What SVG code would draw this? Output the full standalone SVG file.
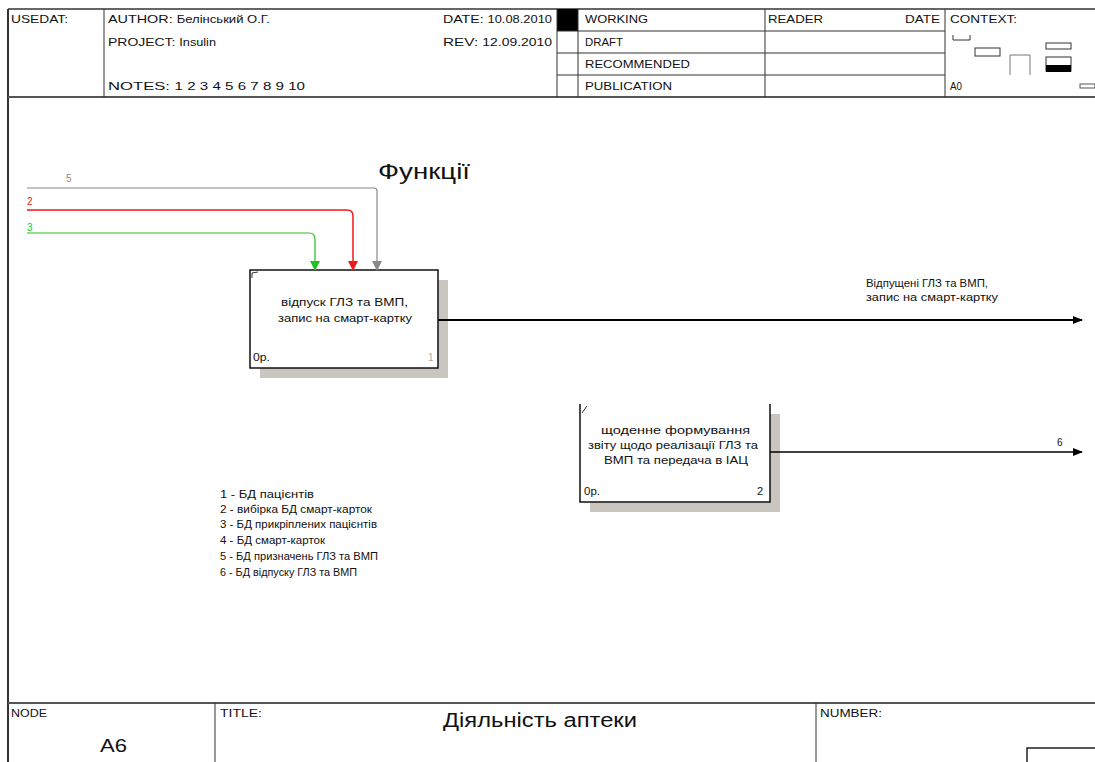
<svg xmlns="http://www.w3.org/2000/svg" width="1095" height="762" viewBox="0 0 1095 762">
<style>
text{font-family:"Liberation Sans",Arial,sans-serif;fill:#111}
.h{font-size:11px}
.s{font-size:10px}
.fl{stroke:#333;stroke-width:1;fill:none}
.box{fill:#fff;stroke:#111;stroke-width:1.5}
.sh{fill:#c9c6bf}
.lbl{font-size:11px}
</style>
<defs>
<marker id="ak" markerWidth="10" markerHeight="8" refX="9" refY="4" orient="auto" markerUnits="userSpaceOnUse"><path d="M0,0 L10,4 L0,8 Z" fill="#000"/></marker>
<marker id="ag" markerWidth="10" markerHeight="10" refX="5" refY="9" orient="0" markerUnits="userSpaceOnUse"><path d="M0,0 L10,0 L5,10 Z" fill="#20c020"/></marker>
<marker id="ar" markerWidth="10" markerHeight="10" refX="5" refY="9" orient="0" markerUnits="userSpaceOnUse"><path d="M0,0 L10,0 L5,10 Z" fill="#f01818"/></marker>
<marker id="ay" markerWidth="10" markerHeight="10" refX="5" refY="9" orient="0" markerUnits="userSpaceOnUse"><path d="M0,0 L10,0 L5,10 Z" fill="#888"/></marker>
</defs>
<rect width="1095" height="762" fill="#fff"/>
<g id="frame">
<line x1="8" y1="9" x2="8" y2="762" stroke="#333" stroke-width="2"/>
<line x1="8" y1="9" x2="1095" y2="9" stroke="#333" stroke-width="1.5"/>
<line x1="8" y1="97" x2="1095" y2="97" stroke="#555" stroke-width="2"/>
<line x1="104" y1="9" x2="104" y2="97" class="fl"/>
<rect x="557" y="9" width="21" height="22" fill="#000"/>
<line x1="557" y1="9" x2="557" y2="97" class="fl"/>
<line x1="578" y1="9" x2="578" y2="97" class="fl"/>
<line x1="557" y1="31" x2="945" y2="31" class="fl"/>
<line x1="557" y1="53" x2="945" y2="53" class="fl"/>
<line x1="557" y1="75" x2="945" y2="75" class="fl"/>
<line x1="765" y1="9" x2="765" y2="97" class="fl"/>
<line x1="945" y1="9" x2="945" y2="97" class="fl"/>
<text x="11" y="23" class="h" textLength="57" lengthAdjust="spacingAndGlyphs">USEDAT:</text>
<text x="108" y="23" class="h" textLength="162" lengthAdjust="spacingAndGlyphs">AUTHOR: <tspan class="s">Белінський О.Г.</tspan></text>
<text x="108" y="46" class="h" textLength="108" lengthAdjust="spacingAndGlyphs">PROJECT: <tspan class="s">Insulin</tspan></text>
<text x="108" y="90" class="h" textLength="197" lengthAdjust="spacingAndGlyphs">NOTES: <tspan class="s" font-size="8">1  2  3  4  5  6  7  8  9  10</tspan></text>
<text x="443" y="23" class="h" textLength="109" lengthAdjust="spacingAndGlyphs">DATE: <tspan class="s">10.08.2010</tspan></text>
<text x="443" y="46" class="h" textLength="109" lengthAdjust="spacingAndGlyphs">REV:   <tspan class="s">12.09.2010</tspan></text>
<text x="585" y="23" class="h" textLength="63" lengthAdjust="spacingAndGlyphs">WORKING</text>
<text x="585" y="46" class="h" textLength="38" lengthAdjust="spacingAndGlyphs">DRAFT</text>
<text x="585" y="68" class="h" textLength="105" lengthAdjust="spacingAndGlyphs">RECOMMENDED</text>
<text x="585" y="90" class="h" textLength="87" lengthAdjust="spacingAndGlyphs">PUBLICATION</text>
<text x="768" y="23" class="h" textLength="55" lengthAdjust="spacingAndGlyphs">READER</text>
<text x="905" y="23" class="h" textLength="35" lengthAdjust="spacingAndGlyphs">DATE</text>
<text x="950" y="23" class="h" textLength="67" lengthAdjust="spacingAndGlyphs">CONTEXT:</text>
<text x="950" y="90" class="s" textLength="12" lengthAdjust="spacingAndGlyphs">A0</text>
<path d="M953,35 V40 H970 V35" fill="none" stroke="#333"/>
<rect x="975" y="48" width="25" height="8" fill="none" stroke="#333"/>
<path d="M1010,75 V55 H1030 V75" fill="none" stroke="#777"/>
<rect x="1046" y="43" width="25" height="6" fill="none" stroke="#333"/>
<rect x="1046" y="57" width="25" height="14" fill="none" stroke="#333"/>
<rect x="1046" y="65" width="25" height="7" fill="#000"/>
<rect x="1080" y="84" width="15" height="4" fill="none" stroke="#555"/>
<line x1="8" y1="703" x2="1095" y2="703" stroke="#555" stroke-width="2"/>
<line x1="215" y1="703" x2="215" y2="762" class="fl"/>
<line x1="816" y1="703" x2="816" y2="762" class="fl"/>
<text x="11" y="717" class="s" textLength="36" lengthAdjust="spacingAndGlyphs">NODE</text>
<text x="220" y="717" class="s" textLength="42" lengthAdjust="spacingAndGlyphs">TITLE:</text>
<text x="820" y="717" class="s" textLength="62" lengthAdjust="spacingAndGlyphs">NUMBER:</text>
<text x="443" y="727" font-size="20" textLength="194" lengthAdjust="spacingAndGlyphs">Діяльність аптеки</text>
<text x="100" y="752" font-size="18" textLength="27" lengthAdjust="spacingAndGlyphs">A6</text>
<path d="M1027,762 V748 H1095" fill="none" stroke="#222" stroke-width="1.5"/>
<text x="378" y="179" font-size="22" textLength="92" lengthAdjust="spacingAndGlyphs">Функції</text>
</g>
<g id="legend">
<text x="220" y="498" class="lbl" textLength="94" lengthAdjust="spacingAndGlyphs">1 - БД пацієнтів</text>
<text x="220" y="513" class="lbl" font-size="9" textLength="152" lengthAdjust="spacingAndGlyphs">2 - вибірка БД смарт-карток</text>
<text x="220" y="528" class="lbl" textLength="157" lengthAdjust="spacingAndGlyphs">3 - БД прикріплених пацієнтів</text>
<text x="220" y="544" class="lbl" textLength="105" lengthAdjust="spacingAndGlyphs">4 - БД смарт-карток</text>
<text x="220" y="560" class="lbl" textLength="158" lengthAdjust="spacingAndGlyphs">5 - БД призначень ГЛЗ та ВМП</text>
<text x="220" y="576" class="lbl" textLength="137" lengthAdjust="spacingAndGlyphs">6 - БД відпуску ГЛЗ та ВМП</text>
</g>
<g id="node1">
<rect x="260" y="280" width="188" height="98" class="sh"/>
<rect x="250" y="270" width="188" height="98" class="box"/>
<path d="M252,278 L252,273 L258,272" fill="none" stroke="#333"/>
<text x="281" y="306" class="lbl" textLength="127" lengthAdjust="spacingAndGlyphs">відпуск ГЛЗ та ВМП,</text>
<text x="278" y="322" class="lbl" textLength="134" lengthAdjust="spacingAndGlyphs">запис на смарт-картку</text>
<text x="253" y="361" class="s" textLength="17" lengthAdjust="spacingAndGlyphs">0р.</text>
<text x="428" y="361" class="s" style="fill:#aaa">1</text>
</g>
<g id="node2">
<rect x="590" y="414" width="190" height="98" class="sh"/>
<rect x="580" y="404" width="190" height="98" fill="#fff"/>
<path d="M580,404 V502 H770 V404" fill="none" stroke="#111" stroke-width="1.5"/>
<path d="M582,413 L587,406" fill="none" stroke="#333"/>
<text x="601" y="434" class="lbl" textLength="149" lengthAdjust="spacingAndGlyphs">щоденне формування</text>
<text x="588" y="449" class="lbl" textLength="170" lengthAdjust="spacingAndGlyphs">звіту щодо реалізації ГЛЗ та</text>
<text x="604" y="464" class="lbl" textLength="144" lengthAdjust="spacingAndGlyphs">ВМП та передача в ІАЦ</text>
<text x="584" y="495" class="s" textLength="16" lengthAdjust="spacingAndGlyphs">0р.</text>
<text x="757" y="495" class="lbl">2</text>
</g>
<g id="connectors">
<path d="M27,188 H374 Q377,188 377,191 V270" fill="none" stroke="#888" stroke-width="1.2" marker-end="url(#ay)"/>
<text x="66" y="182" class="s" style="fill:#888">5</text>
<path d="M27,210 H347 Q353,210 353,216 V270" fill="none" stroke="#f01818" stroke-width="1.5" marker-end="url(#ar)"/>
<text x="27" y="205" class="s" style="fill:#f01818">2</text>
<path d="M27,233 H309 Q315,233 315,239 V270" fill="none" stroke="#20c020" stroke-width="1.2" marker-end="url(#ag)"/>
<text x="27" y="231" class="s" style="fill:#20c020">3</text>
<line x1="438" y1="320" x2="1082" y2="320" stroke="#000" stroke-width="2.2" marker-end="url(#ak)"/>
<text x="866" y="287" class="lbl" textLength="122" lengthAdjust="spacingAndGlyphs">Відпущені ГЛЗ та ВМП,</text>
<text x="866" y="301" class="lbl" textLength="132" lengthAdjust="spacingAndGlyphs">запис на смарт-картку</text>
<line x1="770" y1="452" x2="1082" y2="452" stroke="#000" stroke-width="1.5" marker-end="url(#ak)"/>
<text x="1057" y="446" class="s">6</text>
</g>
</svg>
